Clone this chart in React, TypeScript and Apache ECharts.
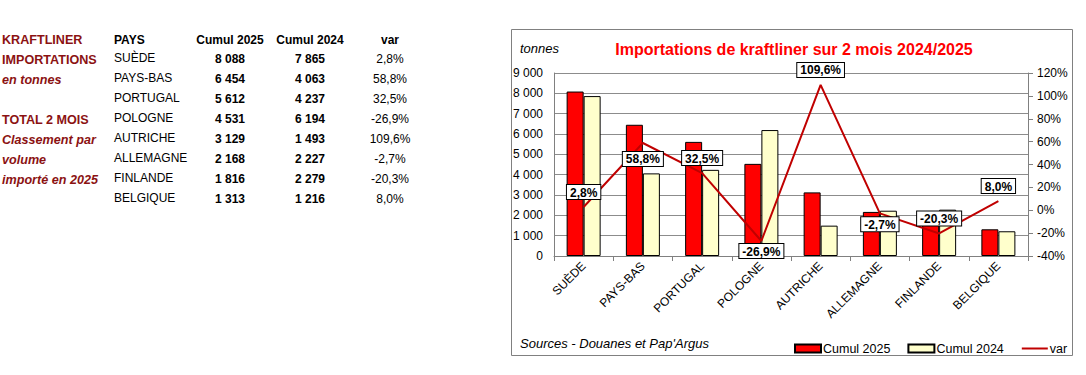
import React, { useEffect, useRef } from "react";
import * as echarts from "echarts";

const countries = ["SUÈDE", "PAYS-BAS", "PORTUGAL", "POLOGNE", "AUTRICHE", "ALLEMAGNE", "FINLANDE", "BELGIQUE"];
const cumul2025 = [8088, 6454, 5612, 4531, 3129, 2168, 1816, 1313];
const cumul2024 = [7865, 4063, 4237, 6194, 1493, 2227, 2279, 1216];
const varPct = [2.8, 58.8, 32.5, -26.9, 109.6, -2.7, -20.3, 8.0];
const sideNotes = ["KRAFTLINER", "IMPORTATIONS", "en tonnes", "", "TOTAL 2 MOIS", "Classement par", "volume", "importé en 2025"];
const tableHeaders = ["PAYS", "Cumul 2025", "Cumul 2024", "var"];

const labelPlacement = ["top", "bottom", "top", "bottom", "top", "bottom", "top", "top"];
const labelDistance = [8, 9, 8, 3, 8, 4, 8, 8];

const FONT = "Arial, 'Liberation Sans', sans-serif";
const fmtNum = (v: number) => String(v).replace(/\B(?=(\d{3})+(?!\d))/g, " ");
const fmtPct = (v: number) => v.toFixed(1).replace(".", ",") + "%";

export default function App() {
  const ref = useRef<HTMLDivElement>(null);
  useEffect(() => {
    document.body.style.margin = "0";
    const chart = echarts.init(ref.current!, null, { renderer: "svg" });
    const maroon = "#8B1212";
    const graphics: any[] = [];
    sideNotes.forEach((t, i) => {
      if (!t) return;
      const italic = i === 2 || i >= 5;
      graphics.push({
        type: "text", x: 2, y: 40 + i * 20,
        style: { text: t, fill: maroon, font: `${italic ? "italic " : ""}bold 12.6px ${FONT}`, verticalAlign: "middle" },
      });
    });
    const colX = [114, 230, 310, 390];
    tableHeaders.forEach((h, j) => {
      graphics.push({
        type: "text", x: colX[j], y: 40,
        style: { text: h, fill: "#000", font: `bold 12px ${FONT}`, align: j === 0 ? "left" : "center", verticalAlign: "middle" },
      });
    });
    countries.forEach((c, i) => {
      const y = 59 + i * 20;
      graphics.push({ type: "text", x: 114, y: y - 1, style: { text: c, fill: "#000", font: `12px ${FONT}`, align: "left", verticalAlign: "middle" } });
      graphics.push({ type: "text", x: 230, y, style: { text: fmtNum(cumul2025[i]), fill: "#000", font: `bold 12px ${FONT}`, align: "center", verticalAlign: "middle" } });
      graphics.push({ type: "text", x: 310, y, style: { text: fmtNum(cumul2024[i]), fill: "#000", font: `bold 12px ${FONT}`, align: "center", verticalAlign: "middle" } });
      graphics.push({ type: "text", x: 390, y, style: { text: fmtPct(varPct[i]), fill: "#000", font: `12px ${FONT}`, align: "center", verticalAlign: "middle" } });
    });
    graphics.push({
      type: "rect", shape: { x: 511.5, y: 29.5, width: 561, height: 326 },
      style: { fill: "none", stroke: "#808080", lineWidth: 1 }, z: -1,
    });
    graphics.push({ type: "text", x: 520, y: 48, style: { text: "tonnes", fill: "#000", font: `italic 13px ${FONT}`, verticalAlign: "middle" } });
    graphics.push({ type: "text", x: 520, y: 343, style: { text: "Sources - Douanes et Pap'Argus", fill: "#000", font: `italic 13px ${FONT}`, verticalAlign: "middle" } });
    graphics.push({
      type: "text", x: 794, y: 49,
      style: { text: "Importations de kraftliner sur 2 mois 2024/2025", fill: "#FF0000", font: `bold 16px ${FONT}`, align: "center", verticalAlign: "middle" },
    });

    chart.setOption({
      animation: false,
      textStyle: { fontFamily: FONT },
      grid: { left: 554, right: 58, top: 73, bottom: 119, containLabel: false },
      legend: {
        left: 789, top: 337, width: 290, itemWidth: 26, itemHeight: 8, itemGap: 17,
        textStyle: { fontSize: 12.5, color: "#000", fontFamily: FONT, padding: [0, 0, 0, -3] },
        data: [
          { name: "Cumul 2025", icon: "rect" },
          { name: "Cumul 2024", icon: "rect" },
          { name: "var", itemStyle: { opacity: 0 } },
        ],
      },
      graphic: graphics,
      xAxis: {
        type: "category", data: countries,
        axisLine: { lineStyle: { color: "#808080" } },
        axisTick: { show: true, length: 5, lineStyle: { color: "#808080" } },
        axisLabel: { rotate: 45, fontSize: 12, color: "#000", margin: 8, interval: 0 },
      },
      yAxis: [
        {
          type: "value", min: 0, max: 9000, interval: 1000,
          axisLine: { show: true, lineStyle: { color: "#808080" } },
          axisTick: { show: false },
          axisLabel: { fontSize: 12, color: "#000", margin: 11, formatter: (v: number) => fmtNum(v) },
          splitLine: { lineStyle: { color: "#8c8c8c" } },
        },
        {
          type: "value", min: -40, max: 120, interval: 20, position: "right",
          axisLine: { show: true, lineStyle: { color: "#808080" } },
          axisTick: { show: true, length: 5, lineStyle: { color: "#808080" } },
          axisLabel: { fontSize: 12, color: "#000", margin: 9, formatter: "{value}%" },
          splitLine: { show: false },
        },
      ],
      series: [
        {
          name: "Cumul 2025", type: "bar", data: cumul2025, barWidth: 17, barGap: "0%",
          itemStyle: { color: "#FF0000", borderColor: "#000", borderWidth: 1 },
        },
        {
          name: "Cumul 2024", type: "bar", data: cumul2024, barWidth: 17, barGap: "0%",
          itemStyle: { color: "#FFFFCC", borderColor: "#000", borderWidth: 1 },
        },
        {
          name: "var", type: "line", yAxisIndex: 1, symbol: "none", showSymbol: false,
          lineStyle: { color: "#C00000", width: 2 }, itemStyle: { color: "#C00000" },
          z: 5, data: varPct,
        },
        {
          name: "varLabels", type: "scatter", yAxisIndex: 1, symbolSize: 0, silent: true, z: 6,
          itemStyle: { color: "#C00000", opacity: 1 },
          emphasis: { disabled: true },
          data: varPct.map((v, i) => ({
            value: v,
            label: {
              show: true, position: labelPlacement[i], distance: labelDistance[i],
              formatter: () => fmtPct(v), opacity: 1,
              fontSize: 12, fontWeight: "bold", color: "#000", backgroundColor: "#ffffff",
              borderColor: "#000", borderWidth: 1, padding: [1, 3, 0, 3], lineHeight: 13,
            },
          })),
        },
      ],
    });
    return () => chart.dispose();
  }, []);
  return <div ref={ref} style={{ width: 1086, height: 375 }} />;
}
